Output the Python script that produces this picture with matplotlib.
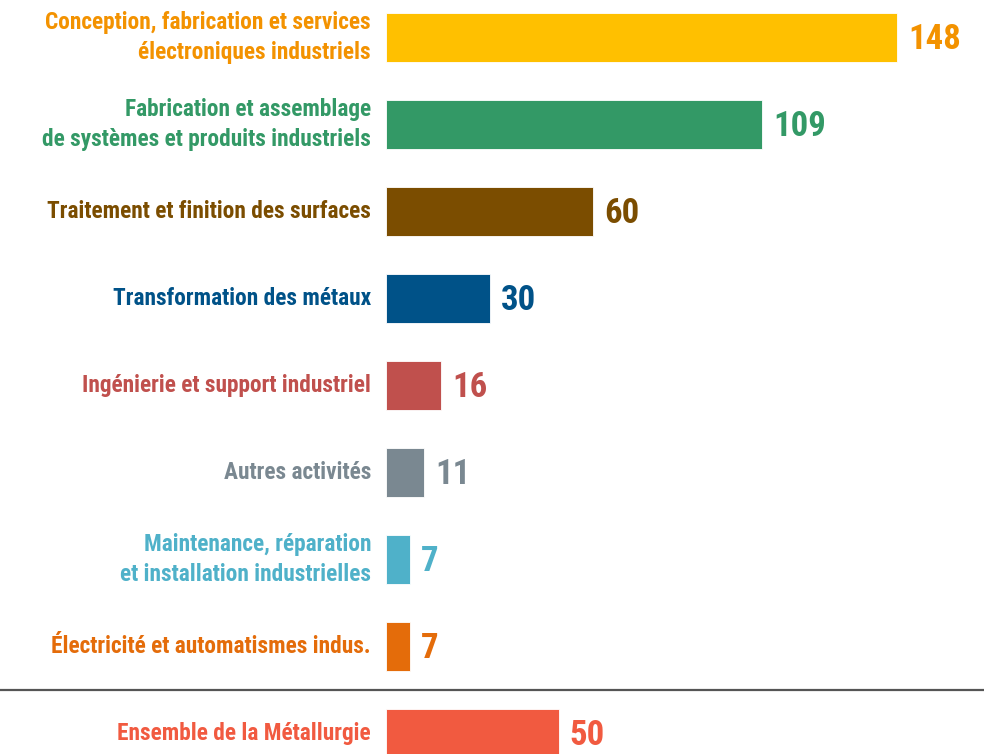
import matplotlib.pyplot as plt
from matplotlib import font_manager

labels = [
    "Conception, fabrication et services\nélectroniques industriels",
    "Fabrication et assemblage\nde systèmes et produits industriels",
    "Traitement et finition des surfaces",
    "Transformation des métaux",
    "Ingénierie et support industriel",
    "Autres activités",
    "Maintenance, réparation\net installation industrielles",
    "Électricité et automatismes indus.",
    "Ensemble de la Métallurgie",
]
values = [148, 109, 60, 30, 16, 11, 7, 7, 50]
bar_colors = ["#FFC000", "#339966", "#7B4D00", "#005288", "#C0504D",
              "#7A8891", "#4FB1C9", "#E46C0A", "#F15A40"]
text_colors = ["#F39200", "#339966", "#7B4D00", "#005288", "#C0504D",
               "#7A8891", "#4FB1C9", "#E46C0A", "#F15A40"]

# condensed bold font like Arial Narrow
names = {f.name for f in font_manager.fontManager.ttflist}
wanted = ["Liberation Sans Narrow", "Arial Narrow", "Roboto Condensed", "Archivo Narrow",
          "PT Sans Narrow", "Fira Sans Condensed", "IBM Plex Sans Condensed", "DejaVu Sans"]
fam = [f for f in wanted if f in names]
plt.rcParams['font.family'] = fam

fig = plt.figure(figsize=(9.84, 7.54), dpi=100)
ax = fig.add_axes([0, 0, 1, 1])

pos = list(range(len(values)))
ax.barh(pos, values, height=0.563, color=bar_colors, edgecolor="white", linewidth=0.6)

for i, (lab, v) in enumerate(zip(labels, values)):
    ax.annotate(lab, (0, i), xytext=(-15, 0), textcoords="offset pixels",
                ha="right", va="center", fontsize=16.8, fontweight="bold",
                color=text_colors[i], linespacing=1.4)
    ax.annotate(str(v), (v, i), xytext=(11, -2), textcoords="offset pixels",
                ha="left", va="center", fontsize=25, fontweight="bold",
                color=text_colors[i])

ax.axhline(7.5, color="#555555", linewidth=1.6)

ax.set_xlim(-111.8, 173.2)
ax.set_ylim(8.236, -0.431)
ax.axis("off")

fig.savefig("out.png", dpi=100)
